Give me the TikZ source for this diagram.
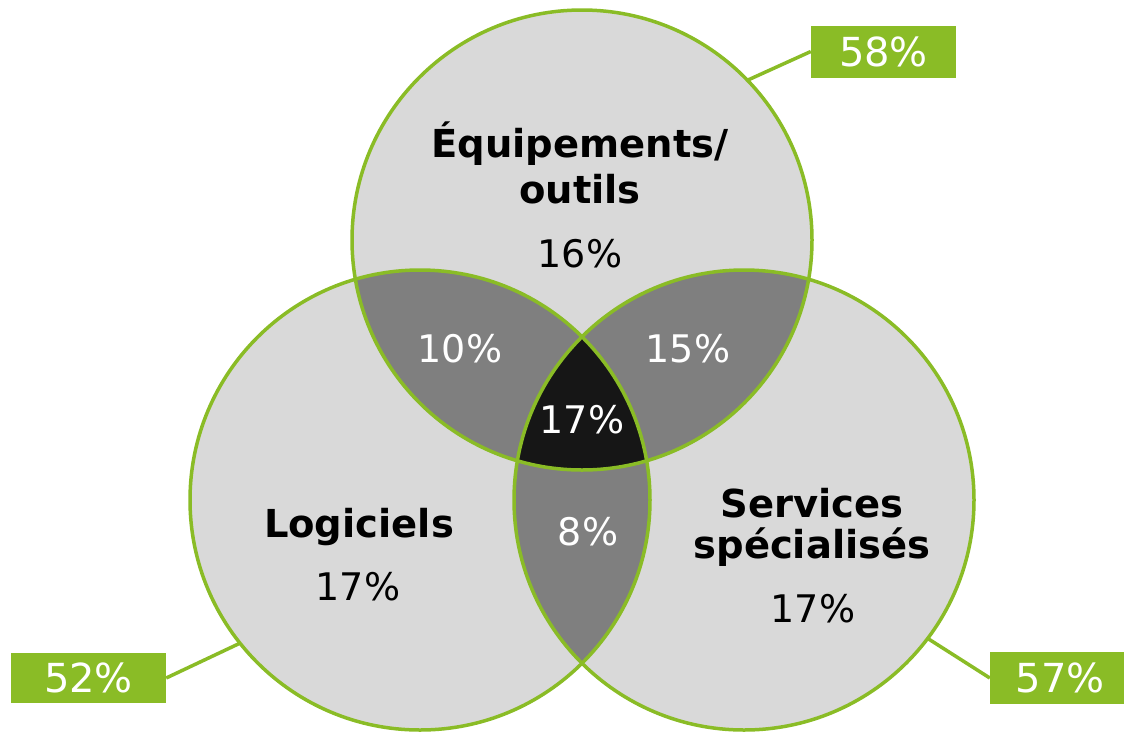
\documentclass[tikz,border=0pt]{standalone}
\usepackage{fontspec}
\setmainfont{DejaVu Sans}
\usetikzlibrary{calc}
\definecolor{vgreen}{HTML}{8ABC26}
\definecolor{vlight}{HTML}{D9D9D9}
\definecolor{vmid}{HTML}{7F7F7F}
\definecolor{vdark}{HTML}{161616}
\newcommand{\rr}{230}

\begin{document}
\begin{tikzpicture}[x=1pt,y=-1pt,
  title/.style={font=\fontsize{38.5}{46}\selectfont\bfseries,align=center,anchor=base},
  pct/.style={font=\fontsize{38}{46}\selectfont,anchor=base},
  pctw/.style={pct,text=white},
  tag/.style={fill=vgreen,text=white,font=\fontsize{40}{46}\selectfont,inner sep=0pt,minimum height=52,minimum width=145},
  rim/.style={draw=vgreen,line width=3.5}]
\useasboundingbox (0,0) rectangle (1124,732);
\coordinate (t) at (582,240);
\coordinate (l) at (420,500);
\coordinate (r) at (744,500);
\path (t) ++(-44:\rr) coordinate (ta);
\path (l) ++(141.5:\rr) coordinate (la);
\path (r) ++(37:\rr) coordinate (ra);

\foreach \h in {t,l,r}{
\fill[vlight] (\h) circle (\rr);
}
% overlaps of two circles
\begin{scope}
\clip (l) circle (\rr);
\fill[vmid] (r) circle (\rr);
\end{scope}
\begin{scope}
\clip (t) circle (\rr);
\fill[vmid] (l) circle (\rr);
\fill[vmid] (r) circle (\rr);
\clip (l) circle (\rr);
\fill[vdark] (r) circle (\rr);
\end{scope}

% tags
\node[tag] (t58) at (883.5,51.5) {58\%};
\node[tag,minimum width=155,minimum height=50] (t52) at (88.5,678) {52\%};
\node[tag,minimum width=140] (t57) at (1060,678) {57\%};
\draw[vgreen,line width=3.5] (ta) -- (t58.west);
\draw[vgreen,line width=3.5] (la) -- (t52.east);
\draw[vgreen,line width=3.5] (ra) -- (t57.west);

\foreach \h in {t,l,r}{
\draw[rim] (\h) circle (\rr);
}

\node[title] (equip) at (580,203) {Équipements/\\outils};
\node[pct] (p16) at (580,267) {16\%};
\node[title] (logi) at (359,537) {Logiciels};
\node[pct] (p17l) at (358,600) {17\%};
\node[title,font=\fontsize{38.5}{41}\selectfont\bfseries] (serv) at (812,558) {Services\\spécialisés};
\node[pct] (p17r) at (813,622) {17\%};
\node[pctw] (p10) at (460,362) {10\%};
\node[pctw] (p15) at (688,362) {15\%};
\node[pctw] (p17c) at (582,433) {17\%};
\node[pctw] (p8) at (588,545) {8\%};
\end{tikzpicture}
\end{document}
